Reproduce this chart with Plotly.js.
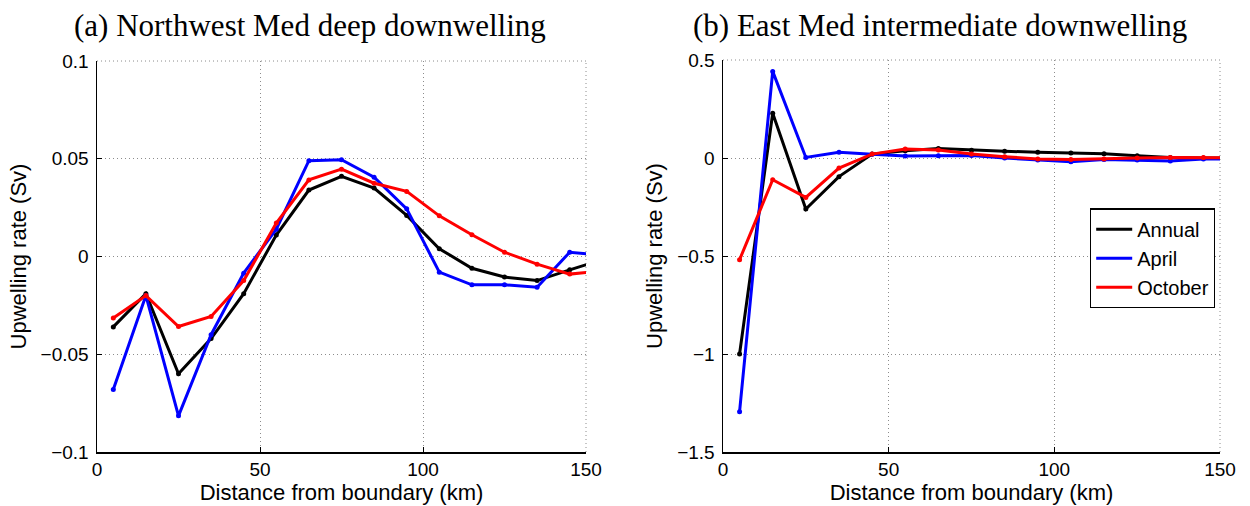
<!DOCTYPE html>
<html>
<head>
<meta charset="utf-8">
<script src="https://cdn.plot.ly/plotly-3.0.1.min.js"></script>
<style>html,body{margin:0;padding:0;background:#fff;}#chart{width:1250px;height:506px;}</style>
</head>
<body>
<div id="chart"></div>
<script>
// Distance from boundary (km); last point lies just beyond the axis limit
var distance = [5, 15, 25, 35, 45, 55, 65, 75, 85, 95, 105, 115, 125, 135, 145, 155];

// (a) Northwest Med deep downwelling (Sv)
var nwAnnual  = [-0.036, -0.019, -0.060, -0.042, -0.019, 0.011, 0.034, 0.041, 0.035, 0.021, 0.004, -0.006, -0.0105, -0.0123, -0.0068, -0.0016];
var nwApril   = [-0.068, -0.020, -0.0815, -0.040, -0.0085, 0.014, 0.049, 0.0495, 0.0406, 0.0244, -0.008, -0.0145, -0.0145, -0.0157, 0.0022, 0.0006];
var nwOctober = [-0.0315, -0.020, -0.0358, -0.0307, -0.0123, 0.0171, 0.0392, 0.0447, 0.0375, 0.0333, 0.0208, 0.0111, 0.0022, -0.0039, -0.009, -0.0074];

// (b) East Med intermediate downwelling (Sv)
var emAnnual  = [-1.0, 0.228, -0.26, -0.095, 0.02, 0.037, 0.049, 0.04, 0.034, 0.03, 0.025, 0.022, 0.012, 0.002, 0.0, 0.0];
var emApril   = [-1.294, 0.442, 0.003, 0.029, 0.019, 0.01, 0.012, 0.013, 0.0, -0.01, -0.019, -0.007, -0.01, -0.015, -0.005, -0.006];
var emOctober = [-0.519, -0.111, -0.201, -0.051, 0.02, 0.046, 0.041, 0.02, 0.007, -0.005, -0.007, -0.005, 0.0, 0.003, 0.002, 0.0];

var seriesNames = ['Annual', 'April', 'October'];
var seriesColors = ['#000000', '#0000ff', '#ff0000'];

var titleA = '(a) Northwest Med deep downwelling';
var titleB = '(b) East Med intermediate downwelling';
var xTitle = 'Distance from boundary (km)';
var yTitle = 'Upwelling rate (Sv)';

var leftSets = [nwAnnual, nwApril, nwOctober];
var rightSets = [emAnnual, emApril, emOctober];

var traces = [];
function addSet(sets, xa, ya) {
  sets.forEach(function (vals, i) {
    traces.push({
      x: distance, y: vals, xaxis: xa, yaxis: ya,
      type: 'scatter', mode: 'lines+markers',
      line: {color: seriesColors[i], width: 3},
      marker: {color: seriesColors[i], size: 5},
      showlegend: false, cliponaxis: true, hoverinfo: 'skip'
    });
  });
}
addSet(leftSets, 'x', 'y');
addSet(rightSets, 'x2', 'y2');
// legend entries (line only)
seriesNames.forEach(function (n, i) {
  traces.push({
    x: [null], y: [null], xaxis: 'x2', yaxis: 'y2', type: 'scatter', mode: 'lines',
    name: n, line: {color: seriesColors[i], width: 3}, showlegend: true
  });
});

var tickFont = {family: 'Liberation Sans, Arial, sans-serif', size: 19, color: '#000'};
var axTitleFont = {family: 'Liberation Sans, Arial, sans-serif', size: 22, color: '#000'};
var gridCol = '#8c8c8c';
var gridDash = '1px,3px';

function xAxis(domain, anchor) {
  return {
    domain: domain, anchor: anchor, range: [0, 150],
    tickvals: [0, 50, 100, 150], ticktext: ['0', '50', '100', '150'],
    ticks: 'inside', ticklen: 5, tickcolor: '#000', tickwidth: 1,
    showline: true, linecolor: '#000', linewidth: 1.5,
    showgrid: true, gridcolor: gridCol, griddash: gridDash, gridwidth: 1,
    zeroline: false, tickfont: tickFont, ticklabelstandoff: 0,
    title: {text: xTitle, font: axTitleFont, standoff: 0}
  };
}
function yAxis(domain, anchor, range, vals, texts) {
  return {
    domain: domain, anchor: anchor, range: range,
    tickvals: vals, ticktext: texts,
    ticks: 'inside', ticklen: 5, tickcolor: '#000', tickwidth: 1,
    showline: true, linecolor: '#000', linewidth: 1.5,
    showgrid: true, gridcolor: gridCol, griddash: gridDash, gridwidth: 1,
    zeroline: false, tickfont: tickFont, ticklabelstandoff: 3,
    title: {text: yTitle, font: axTitleFont, standoff: 8}
  };
}

function edgeShapes(xr, yr) {
  var ln = {color: gridCol, width: 1, dash: gridDash};
  return [
    {type: 'line', xref: xr + ' domain', yref: yr + ' domain', x0: 0, x1: 1, y0: 1, y1: 1, line: ln, layer: 'below'},
    {type: 'line', xref: xr + ' domain', yref: yr + ' domain', x0: 1, x1: 1, y0: 0, y1: 1, line: ln, layer: 'below'}
  ];
}

var layout = {
  width: 1250, height: 506,
  margin: {l: 0, r: 0, t: 0, b: 0},
  paper_bgcolor: '#fff', plot_bgcolor: '#fff',
  showlegend: true,
  xaxis: xAxis([0.0776, 0.4688], 'y'),
  yaxis: yAxis([0.1067, 0.8794], 'x', [-0.1, 0.1], [-0.1, -0.05, 0, 0.05, 0.1], ['\u22120.1', '\u22120.05', '0', '0.05', '0.1']),
  xaxis2: xAxis([0.5784, 0.976], 'y2'),
  yaxis2: yAxis([0.1067, 0.8814], 'x2', [-1.5, 0.5], [-1.5, -1, -0.5, 0, 0.5], ['\u22121.5', '\u22121', '\u22120.5', '0', '0.5']),
  shapes: edgeShapes('x', 'y').concat(edgeShapes('x2', 'y2')),
  legend: {
    x: 0.972, xanchor: 'right', y: 0.588, yanchor: 'top',
    bgcolor: '#fff', bordercolor: '#000', borderwidth: 1.2,
    font: {family: 'Liberation Sans, Arial, sans-serif', size: 20, color: '#000'},
    itemwidth: 36, tracegroupgap: 0
  },
  annotations: [
    {text: titleA, xref: 'paper', yref: 'paper', x: 0.248, y: 0.950, xanchor: 'center', yanchor: 'middle',
     showarrow: false, font: {family: 'Liberation Serif, Times New Roman, serif', size: 31, color: '#000'}},
    {text: titleB, xref: 'paper', yref: 'paper', x: 0.752, y: 0.950, xanchor: 'center', yanchor: 'middle',
     showarrow: false, font: {family: 'Liberation Serif, Times New Roman, serif', size: 31, color: '#000'}}
  ]
};

Plotly.newPlot('chart', traces, layout, {staticPlot: true, displayModeBar: false});
</script>
</body>
</html>
